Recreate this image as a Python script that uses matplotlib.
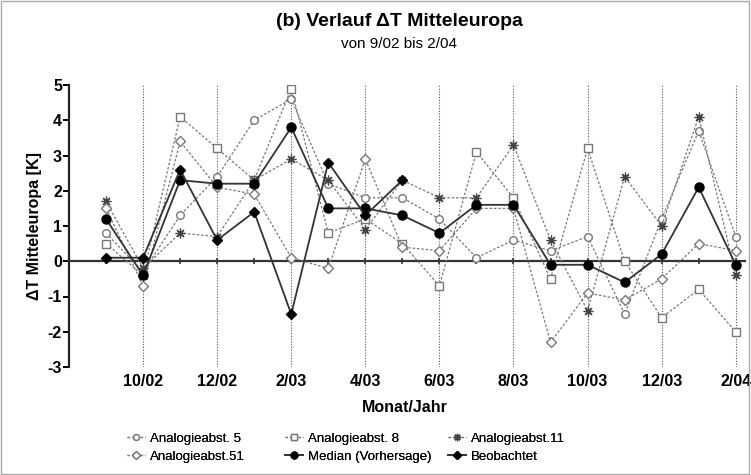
import matplotlib
matplotlib.use("Agg")
import matplotlib.pyplot as plt
from matplotlib.patches import Rectangle

months = ['9/02','10/02','11/02','12/02','1/03','2/03','3/03','4/03','5/03',
          '6/03','7/03','8/03','9/03','10/03','11/03','12/03','1/04','2/04']
a5 = [0.8,-0.3,1.3,2.4,4.0,4.6,2.2,1.8,1.8,1.2,0.1,0.6,0.3,0.7,-1.5,1.2,3.7,0.7]
a8 = [0.5,-0.4,4.1,3.2,2.3,4.9,0.8,1.2,0.5,-0.7,3.1,1.8,-0.5,3.2,0.0,-1.6,-0.8,-2.0]
a11 = [1.7,-0.2,0.8,0.7,2.3,2.9,2.3,0.9,2.3,1.8,1.8,3.3,0.6,-1.4,2.4,1.0,4.1,-0.4]
a51 = [1.5,-0.7,3.4,2.1,1.9,0.1,-0.2,2.9,0.4,0.3,1.5,1.5,-2.3,-0.9,-1.1,-0.5,0.5,0.3]
median = [1.2,-0.4,2.3,2.2,2.2,3.8,1.5,1.5,1.3,0.8,1.6,1.6,-0.1,-0.1,-0.6,0.2,2.1,-0.1]
beob = [0.1,0.1,2.6,0.6,1.4,-1.5,2.8,1.3,2.3]
labeled_months = ['10/02','12/02','2/03','4/03','6/03','8/03','10/03','12/03','2/04']
yticks = [-3,-2,-1,0,1,2,3,4,5]

plt.rcParams['font.family'] = ['Liberation Sans', 'DejaVu Sans']

fig = plt.figure(figsize=(7.51, 4.75), dpi=100)
ax = fig.add_axes([69/751, 1-367/475, (745-69)/751, (367-85)/475])

x = list(range(len(months)))
lab_idx = [months.index(m) for m in labeled_months]

for xi in lab_idx:
    ax.axvline(xi, color='#555555', lw=0.8, ls=(0, (1, 1.5)), zorder=1)

grey = '#777777'
ms = 5.5
l5, = ax.plot(x, a5, ls=(0,(2,1.5)), color=grey, lw=0.9, marker='o', ms=ms,
              mfc='white', mec=grey, mew=1.0, label='Analogieabst. 5', zorder=3)
l8, = ax.plot(x, a8, ls=(0,(2,1.5)), color=grey, lw=0.9, marker='s', ms=ms,
              mfc='white', mec=grey, mew=1.0, label='Analogieabst. 8', zorder=3)
l11, = ax.plot(x, a11, ls=(0,(2,1.5)), color=grey, lw=0.9, marker=(8, 2, 0), ms=7,
               mfc='white', mec='#444444', mew=0.9, label='Analogieabst.11', zorder=3)
l51, = ax.plot(x, a51, ls=(0,(2,1.5)), color=grey, lw=0.9, marker='D', ms=5,
               mfc='white', mec=grey, mew=1.0, label='Analogieabst.51', zorder=3)
lm, = ax.plot(x, median, ls='-', color='#333333', lw=1.3, marker='o', ms=6.5,
              mfc='black', mec='black', label='Median (Vorhersage)', zorder=4)
lb, = ax.plot(x[:len(beob)], beob, ls='-', color='#333333', lw=1.3, marker='D', ms=5.5,
              mfc='black', mec='black', label='Beobachtet', zorder=4)

ax.set_xlim(-1, 17.25)
ax.set_ylim(-3, 5)

for s in ['top', 'right']:
    ax.spines[s].set_visible(False)
ax.spines['bottom'].set_position(('data', 0))
ax.spines['bottom'].set_linewidth(1.6)
ax.spines['bottom'].set_color('#333333')
ax.spines['left'].set_linewidth(1.6)
ax.spines['left'].set_color('#222222')
ax.set_xticks(x)
ax.set_xticklabels([])
ax.tick_params(axis='x', direction='inout', length=5, width=1.2, color='#333333')
ax.set_yticks(yticks)
ax.set_yticklabels([str(v) for v in yticks], fontweight='bold', fontsize=11.5)
ax.tick_params(axis='y', direction='out', length=4, width=1.4, pad=1)

sec = ax.secondary_xaxis(0)
sec.set_xticks(lab_idx)
sec.set_xticklabels(labeled_months, fontweight='bold', fontsize=11.5)
sec.tick_params(length=0, pad=5)
sec.spines['bottom'].set_visible(False)

ax.set_ylabel('ΔT Mitteleuropa [K]', fontweight='bold', fontsize=11.5, labelpad=4)
fig.text(405/751, 1-408/475, 'Monat/Jahr', ha='center', va='center',
         fontweight='bold', fontsize=11.5)

fig.text(399/751, 1-22/475, '(b) Verlauf ΔT Mitteleuropa', ha='center', va='center',
         fontweight='bold', fontsize=14)
fig.text(399/751, 1-44/475, 'von 9/02 bis 2/04', ha='center', va='center', fontsize=11)

cols = [([l5, l51], 127), ([l8, lm], 285), ([l11, lb], 448)]
for handles, xpos in cols:
    lg = fig.legend(handles=handles, loc='center left', frameon=False,
                    bbox_to_anchor=(xpos/751, 1-447.5/475), borderaxespad=0,
                    borderpad=0, fontsize=9.5, handlelength=1.4, handletextpad=0.35,
                    labelspacing=0.45, markerscale=0.75)
    fig.add_artist(lg)

fig.patches.append(Rectangle((0.001, 0.002), 0.997, 0.996, transform=fig.transFigure,
                             fill=False, ec='#aaaaaa', lw=1))

fig.savefig('out.png', dpi=100)
